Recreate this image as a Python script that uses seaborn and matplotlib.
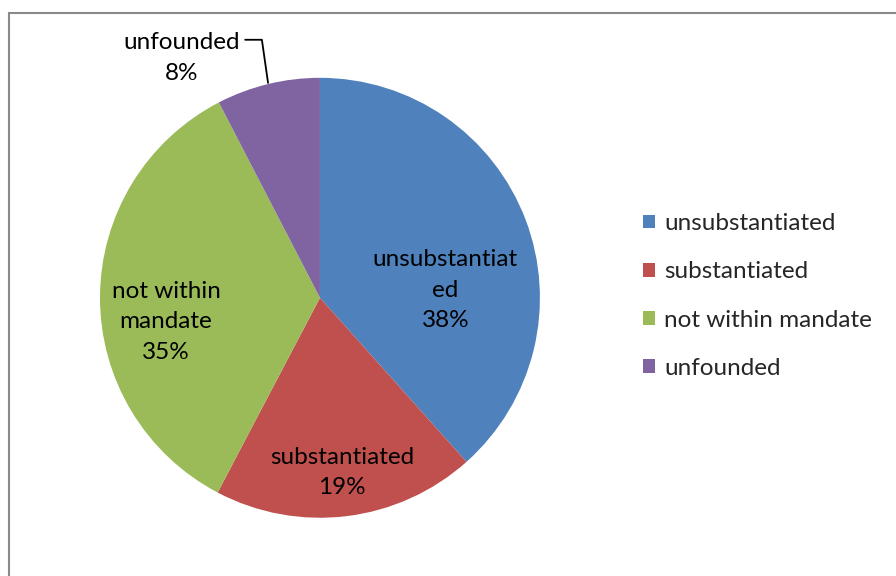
import matplotlib
matplotlib.use("Agg")
import matplotlib.pyplot as plt
import seaborn as sns
from matplotlib.lines import Line2D
from matplotlib.patches import Patch

categories = ["unsubstantiated", "substantiated", "not within mandate", "unfounded"]
shares = [38.4, 19.3, 34.7, 7.6]
slice_labels = ["unsubstantiat\ned", "substantiated", "not within\nmandate", "unfounded"]
colors = ["#4F81BD", "#C0504D", "#9BBB59", "#8064A2"]

sns.set_theme(style="white")
plt.rcParams["font.family"] = ["Lato", "DejaVu Sans"]

fig = plt.figure(figsize=(8.96, 5.76), dpi=100)
ax = fig.add_axes([0.1116, 0.101, 0.491, 0.764])
palette = sns.color_palette(colors)
wedges, _ = ax.pie(shares, colors=palette, startangle=90, counterclock=False,
                   wedgeprops=dict(linewidth=0))
ax.set_xlim(-1, 1)
ax.set_ylim(-1, 1)
ax.set_aspect("equal")
ax.axis("off")

fs = 17.5
pos = [(0.57, 0.035), (0.10, -0.795), (-0.70, -0.11), (-0.63, 1.09)]
for (x, y), lab, v in zip(pos, slice_labels, shares):
    ax.text(x, y, f"{lab}\n{round(v):d}%", ha="center", va="center",
            fontsize=fs, color="black", linespacing=1.55, clip_on=False)

# leader line for the small slice
ax.plot([-0.34, -0.264, -0.236], [1.173, 1.173, 0.977], color="black", lw=1.3,
        clip_on=False)

handles = [Patch(facecolor=c, edgecolor="none") for c in palette]
fig.legend(handles, categories, loc="center left",
           bbox_to_anchor=(643 / 896, 1 - 296 / 576), frameon=False,
           fontsize=fs, handlelength=0.5, handleheight=0.5, handletextpad=0.37,
           labelspacing=1.12, borderaxespad=0, borderpad=0)

# chart frame (top and left edges visible)
fig.add_artist(Line2D([8.5 / 896, 8.5 / 896], [0, 1 - 12.5 / 576],
                      transform=fig.transFigure, color="#8a8a8a", lw=1.5))
fig.add_artist(Line2D([8.5 / 896, 1], [1 - 12.5 / 576, 1 - 12.5 / 576],
                      transform=fig.transFigure, color="#8a8a8a", lw=1.5))

fig.savefig("out.png", dpi=100, facecolor="white")
